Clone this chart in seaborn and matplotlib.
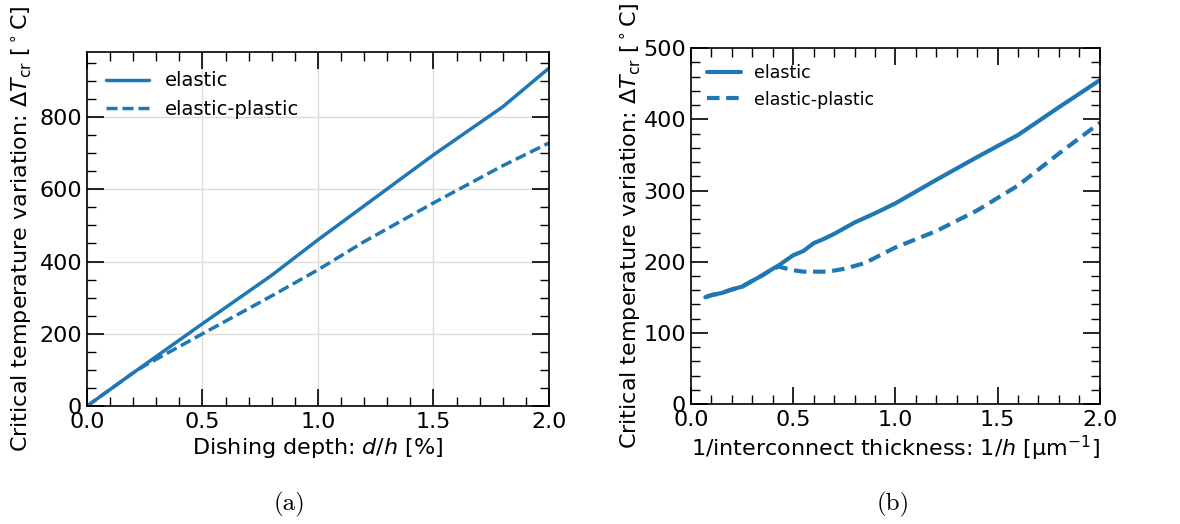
import numpy as np
import pandas as pd
import seaborn as sns
import matplotlib.pyplot as plt
from matplotlib.ticker import MultipleLocator

sns.set_theme(style="white")
plt.rcParams['font.family'] = ['DejaVu Sans']
plt.rcParams['mathtext.fontset'] = 'dejavusans'
plt.rcParams['text.color'] = 'black'
plt.rcParams['axes.labelcolor'] = 'black'

# panel (a): dishing depth
dish_x_el = [0.0, 0.2, 0.5, 0.8, 1.0, 1.5, 1.8, 2.0]
dish_y_el = [0, 92, 228, 362, 460, 695, 828, 935]
dish_x_pl = [0.0, 0.2, 0.25, 0.5, 0.8, 1.0, 1.2, 1.5, 1.8, 2.0]
dish_y_pl = [0, 92, 112, 200, 305, 377, 455, 562, 665, 728]

# panel (b): inverse thickness
inv_x_el = [0.07, 0.1, 0.15, 0.2, 0.25, 0.3, 0.35, 0.4, 0.43, 0.5, 0.55, 0.6, 0.65,
            0.7, 0.8, 0.9, 1.0, 1.2, 1.4, 1.6, 1.8, 2.0]
inv_y_el = [150, 153, 156, 161, 165, 173, 181, 190, 195, 209, 215, 226, 232,
            239, 255, 268, 282, 315, 347, 378, 417, 455]
inv_x_pl = [0.07, 0.1, 0.15, 0.2, 0.25, 0.3, 0.35, 0.4, 0.43, 0.5, 0.55, 0.6, 0.67,
            0.75, 0.85, 1.0, 1.2, 1.4, 1.6, 1.8, 2.0]
inv_y_pl = [150, 153, 156, 161, 165, 173, 181, 190, 193, 188, 186, 186, 186,
            190, 198, 220, 243, 272, 307, 352, 395]

models = ['elastic', 'elastic-plastic']
blue = '#1f77b4'

df_a = pd.DataFrame({
    'x': dish_x_el + dish_x_pl,
    'y': dish_y_el + dish_y_pl,
    'model': [models[0]] * len(dish_x_el) + [models[1]] * len(dish_x_pl),
})
df_b = pd.DataFrame({
    'x': inv_x_el + inv_x_pl,
    'y': inv_y_el + inv_y_pl,
    'model': [models[0]] * len(inv_x_el) + [models[1]] * len(inv_x_pl),
})

fig = plt.figure(figsize=(11.8, 5.24), dpi=100)
ax1 = fig.add_axes([0.0737, 0.225, 0.3915, 0.676])
ax2 = fig.add_axes([0.5856, 0.229, 0.3464, 0.679])

ylab = r'Critical temperature variation: $\Delta T_\mathrm{cr}$ [$^\circ$C]'
fs = 16


def style_axes(ax, xminor, yminor):
    ax.xaxis.set_major_locator(MultipleLocator(0.5))
    ax.xaxis.set_minor_locator(MultipleLocator(xminor))
    ax.yaxis.set_minor_locator(MultipleLocator(yminor))
    ax.tick_params(which='both', direction='in', top=True, right=True,
                   bottom=True, left=True, colors='black', labelsize=fs)
    ax.tick_params(which='major', length=12, width=1.2)
    ax.tick_params(which='minor', length=6.5, width=1.0)
    ax.tick_params(axis='x', which='major', pad=4)
    for s in ax.spines.values():
        s.set_color('black')
        s.set_linewidth(1.2)


sns.lineplot(data=df_a, x='x', y='y', style='model', style_order=models,
             dashes={'elastic': '', 'elastic-plastic': (3.2, 1.4)},
             color=blue, linewidth=2.5, ax=ax1, estimator=None, sort=False)
ax1.set_xlim(0, 2.0)
ax1.set_ylim(0, 980)
ax1.yaxis.set_major_locator(MultipleLocator(200))
style_axes(ax1, 0.1, 50)
ax1.grid(True, which='major', color='#dcdcdc', linewidth=1.0)
ax1.set_xlabel(r'Dishing depth: $d/h$ [%]', fontsize=fs, labelpad=3)
ax1.set_ylabel(ylab, fontsize=fs, labelpad=4)
ax1.legend(frameon=False, loc='upper left', fontsize=14, handlelength=2.2,
           handletextpad=0.8, borderaxespad=0.6)

sns.lineplot(data=df_b, x='x', y='y', style='model', style_order=models,
             dashes={'elastic': '', 'elastic-plastic': (3.0, 1.6)},
             color=blue, linewidth=3, ax=ax2, estimator=None, sort=False)
ax2.set_xlim(0, 2.0)
ax2.set_ylim(0, 500)
ax2.yaxis.set_major_locator(MultipleLocator(100))
style_axes(ax2, 0.1, 20)
ax2.set_xlabel(r'1/interconnect thickness: $1/h$ [μm$^{-1}$]', fontsize=fs, labelpad=3)
ax2.set_ylabel(ylab, fontsize=fs, labelpad=0)
ax2.legend(frameon=False, loc='upper left', fontsize=12.5, handlelength=2.0,
           handletextpad=0.7, borderaxespad=0.5)

fig.text(0.245, 0.025, '(a)', family='cmr10', fontsize=18, ha='center')
fig.text(0.757, 0.025, '(b)', family='cmr10', fontsize=18, ha='center')

fig.savefig('out.png', dpi=100)
